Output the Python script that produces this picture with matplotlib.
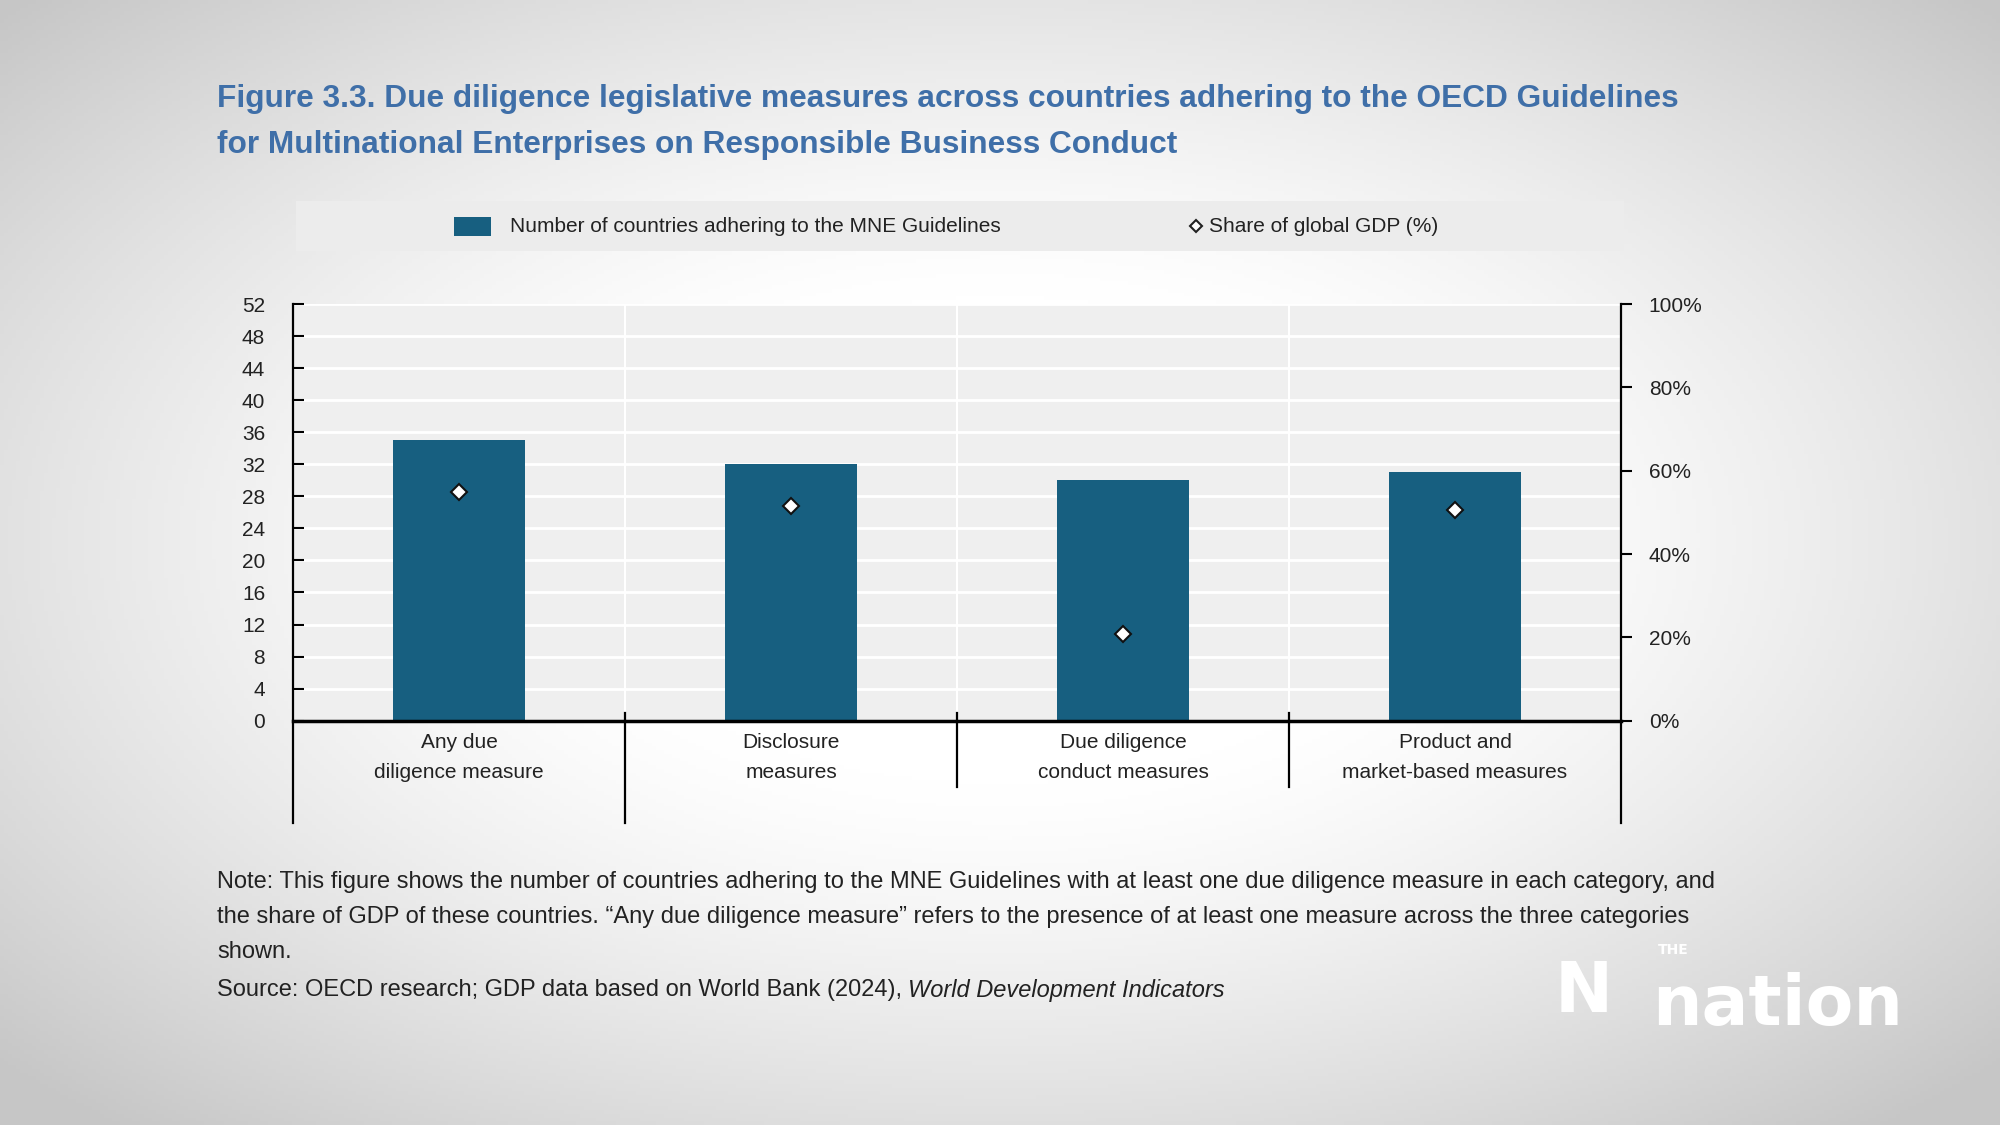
import numpy as np
import matplotlib
matplotlib.use('Agg')
from matplotlib import pyplot as plt
from matplotlib.patches import Rectangle
from matplotlib.lines import Line2D

categories=['Any due\ndiligence measure','Disclosure\nmeasures','Due diligence\nconduct measures','Product and\nmarket-based measures']
n_countries=[35,32,30,31]
gdp_share=[55.0,51.5,20.8,50.6]
left_ticks=list(range(0,53,4))
right_ticks=[0,20,40,60,80,100]

plt.rcParams['font.family']=['Liberation Sans','DejaVu Sans']
bar_color='#175f80'
txt='#222222'

fig=plt.figure(figsize=(20,11.25),dpi=100)

# vignette background
bg=fig.add_axes([0,0,1,1],zorder=-10)
yy,xx=np.mgrid[0:1:300j,0:1:500j]
r=np.sqrt(((xx-0.5)/0.62)**2+((yy-0.52)/0.62)**2)
g=1-0.22*np.clip((r-0.35)/0.75,0,1)**1.3
bg.imshow(np.dstack([g,g,g]),extent=[0,1,0,1],aspect='auto',origin='lower')
bg.axis('off')

fig.text(0.1085,1-99.5/1125,'Figure 3.3. Due diligence legislative measures across countries adhering to the OECD Guidelines',
         fontsize=22.8,fontweight='bold',color='#3f6fa8',va='center',ha='left')
fig.text(0.1085,1-145.5/1125,'for Multinational Enterprises on Responsible Business Conduct',
         fontsize=22.8,fontweight='bold',color='#3f6fa8',va='center',ha='left')

# legend box
fig.patches.append(Rectangle((296/2000,1-251/1125),1328/2000,50/1125,transform=fig.transFigure,
                             facecolor='#ececec',edgecolor='none',zorder=0))
fig.patches.append(Rectangle((454/2000,1-236/1125),37/2000,19/1125,transform=fig.transFigure,
                             facecolor=bar_color,edgecolor='none',zorder=1))
fig.text(510/2000,1-226/1125,'Number of countries adhering to the MNE Guidelines',fontsize=15,color=txt,va='center')
fig.lines.append(Line2D([1196/2000],[1-226/1125],transform=fig.transFigure,marker='D',markersize=6,
                        markerfacecolor='white',markeredgecolor='#222222',markeredgewidth=1.5,linestyle='none'))
fig.text(1209/2000,1-226/1125,'Share of global GDP (%)',fontsize=15,color=txt,va='center')

ax=fig.add_axes([293/2000,1-720.7/1125,(1621-293)/2000,416.7/1125])
ax.set_facecolor('#efefef')
x=np.arange(len(categories))
ax.bar(x,n_countries,width=0.40,color=bar_color,zorder=3)
ax.set_xlim(-0.5,len(categories)-0.5)
ax.set_ylim(0,52)
ax.set_yticks(left_ticks)
ax.tick_params(axis='y',direction='in',length=8,width=1.5,labelsize=15,labelcolor=txt,pad=20)
ax.set_xticks([])
for y in left_ticks[1:]:
    ax.axhline(y,color='white',linewidth=2,zorder=1)
for s in ax.spines.values():
    s.set_visible(False)
ax.axhline(0,color='black',linewidth=2.5,zorder=5,clip_on=False)

ax2=ax.twinx()
ax2.set_ylim(0,100)
ax2.set_yticks(right_ticks)
ax2.set_yticklabels([str(t)+'%' for t in right_ticks])
ax2.tick_params(axis='y',direction='out',length=8,width=1.5,labelsize=15,labelcolor=txt,pad=12)
for s in ax2.spines.values():
    s.set_visible(False)
ax2.plot(x,gdp_share,linestyle='none',marker='D',markersize=8,markerfacecolor='white',
         markeredgecolor='#111111',markeredgewidth=1.5,zorder=6)

# category separators and axis lines that run below the plot
tr=ax.get_xaxis_transform()
seps=[-0.5,0.5,1.5,2.5,3.5]
bottoms=[-0.2455,-0.2455,-0.159,-0.159,-0.2455]
for sx,b in zip(seps,bottoms):
    top=1.0 if sx in (-0.5,3.5) else 0.0
    ax.plot([sx,sx],[b,top],transform=tr,color='black',linewidth=1.6,clip_on=False,zorder=5)
    if sx not in (-0.5,3.5):
        ax.plot([sx,sx],[0,1],transform=tr,color='white',linewidth=1.5,zorder=1)
        ax.plot([sx,sx],[0,0.018],transform=tr,color='black',linewidth=1.6,clip_on=False,zorder=5)
for i,c in enumerate(categories):
    ax.text(i,-0.03,c,transform=tr,ha='center',va='top',fontsize=15,color=txt,linespacing=1.7)

note_lines=['Note: This figure shows the number of countries adhering to the MNE Guidelines with at least one due diligence measure in each category, and',
            'the share of GDP of these countries. \u201cAny due diligence measure\u201d refers to the presence of at least one measure across the three categories',
            'shown.']
for ln,yp in zip(note_lines,[882,917,952]):
    fig.text(217/2000,1-yp/1125,ln,fontsize=17,color=txt,va='center',ha='left')
src=fig.text(217/2000,1-990/1125,'Source: OECD research; GDP data based on World Bank (2024),',fontsize=17,color=txt,va='center',ha='left')
fig.canvas.draw()
bb=src.get_window_extent()
fig.text((bb.x1+6)/2000,1-990/1125,'World Development Indicators',fontsize=17,color=txt,va='center',ha='left',style='italic')

# watermark
fig.text(1555/2000,1-993/1125,'N',fontsize=50,fontweight='bold',color='white',va='center',ha='left',family='DejaVu Sans')
fig.text(1658/2000,1-950/1125,'THE',fontsize=10,fontweight='bold',color='white',va='center',ha='left',family='DejaVu Sans')
fig.text(1652/2000,1-1006/1125,'nation',fontsize=50,fontweight='bold',color='white',va='center',ha='left',family='DejaVu Sans')

fig.savefig('out.png',dpi=100)
